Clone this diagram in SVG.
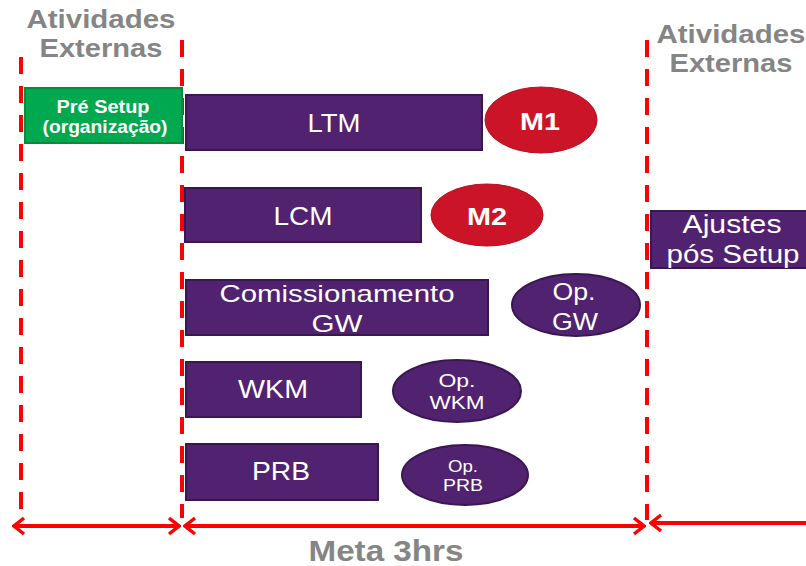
<svg xmlns="http://www.w3.org/2000/svg" width="806" height="566" viewBox="0 0 806 566">
  <defs>
    <style>
      .head { font-family: "Liberation Sans", Arial, sans-serif; font-weight: bold; font-size: 25px; fill: #858585; text-anchor: middle; }
      .task { fill: #51226F; stroke: #3A1752; stroke-width: 2; }
      .op { fill: #51226F; stroke: #3A1752; stroke-width: 2; }
      .mile { fill: #CC1428; stroke: #B8101F; stroke-width: 1; }
      .lbl { font-family: "Liberation Sans", Arial, sans-serif; font-size: 25px; fill: #FFFFFF; text-anchor: middle; }
      .bold { font-weight: bold; }
      .guide { stroke: #FF0000; stroke-width: 4; stroke-dasharray: 17 12; fill: none; }
      .span { stroke: #FF0000; stroke-width: 4; fill: none; }
    </style>
    <marker id="arrEnd" viewBox="0 0 14 20" refX="12" refY="10" markerWidth="14" markerHeight="20" markerUnits="userSpaceOnUse" orient="auto">
      <path d="M2,2 L12,10 L2,18" fill="none" stroke="#FF0000" stroke-width="3.5"/>
    </marker>
    <marker id="arrStart" viewBox="0 0 14 20" refX="2" refY="10" markerWidth="14" markerHeight="20" markerUnits="userSpaceOnUse" orient="auto">
      <path d="M12,2 L2,10 L12,18" fill="none" stroke="#FF0000" stroke-width="3.5"/>
    </marker>
  </defs>

  <rect width="806" height="566" fill="#FFFFFF"/>

  <!-- section headings -->
  <text class="head" x="101" y="28" textLength="149" lengthAdjust="spacingAndGlyphs">Atividades</text>
  <text class="head" x="101" y="57" textLength="123" lengthAdjust="spacingAndGlyphs">Externas</text>
  <text class="head" x="731" y="43" textLength="149" lengthAdjust="spacingAndGlyphs">Atividades</text>
  <text class="head" x="731" y="72" textLength="123" lengthAdjust="spacingAndGlyphs">Externas</text>
  <text class="head" x="386" y="561" style="font-size:30px" textLength="155" lengthAdjust="spacingAndGlyphs">Meta 3hrs</text>

  <!-- phase boundaries and duration spans -->
  <g id="connectors">
    <line class="guide" x1="21" y1="57" x2="21" y2="520"/>
    <line class="guide" x1="182" y1="40" x2="182" y2="518"/>
    <line class="guide" x1="647" y1="40" x2="647" y2="520"/>
    <line class="span" x1="14" y1="526" x2="179" y2="526" marker-start="url(#arrStart)" marker-end="url(#arrEnd)"/>
    <line class="span" x1="185" y1="526" x2="644" y2="526" marker-start="url(#arrStart)" marker-end="url(#arrEnd)"/>
    <line class="span" x1="651" y1="523" x2="806" y2="523" marker-start="url(#arrStart)"/>
  </g>

  <g id="pre-setup">
    <rect x="25" y="88" width="157" height="55" fill="#00A84F" stroke="#0A8A3A" stroke-width="2"/>
    <text class="lbl bold" x="103" y="113" style="font-size:18px" textLength="93" lengthAdjust="spacingAndGlyphs">Pré Setup</text>
    <text class="lbl bold" x="105" y="133" style="font-size:18px" textLength="125" lengthAdjust="spacingAndGlyphs">(organização)</text>
  </g>

  <g id="ltm">
    <rect class="task" x="186" y="95" width="296" height="55"/>
    <text class="lbl" x="334" y="132" textLength="53" lengthAdjust="spacingAndGlyphs">LTM</text>
  </g>
  <g id="m1">
    <ellipse class="mile" cx="541" cy="120" rx="56" ry="33"/>
    <text class="lbl bold" x="540" y="130" style="font-size:24px" textLength="40" lengthAdjust="spacingAndGlyphs">M1</text>
  </g>

  <g id="lcm">
    <rect class="task" x="185" y="188" width="236" height="54"/>
    <text class="lbl" x="303" y="225" textLength="59" lengthAdjust="spacingAndGlyphs">LCM</text>
  </g>
  <g id="m2">
    <ellipse class="mile" cx="487" cy="215" rx="56" ry="31"/>
    <text class="lbl bold" x="487" y="225" style="font-size:24px" textLength="40" lengthAdjust="spacingAndGlyphs">M2</text>
  </g>

  <g id="comissionamento-gw">
    <rect class="task" x="186" y="280" width="302" height="55"/>
    <text class="lbl" x="337" y="302" style="font-size:24px" textLength="235" lengthAdjust="spacingAndGlyphs">Comissionamento</text>
    <text class="lbl" x="337" y="332" style="font-size:24px" textLength="51" lengthAdjust="spacingAndGlyphs">GW</text>
  </g>
  <g id="op-gw">
    <ellipse class="op" cx="576" cy="305" rx="64" ry="31"/>
    <text class="lbl" x="574" y="300" style="font-size:24px" textLength="43" lengthAdjust="spacingAndGlyphs">Op.</text>
    <text class="lbl" x="575" y="330" style="font-size:24px" textLength="46" lengthAdjust="spacingAndGlyphs">GW</text>
  </g>

  <g id="wkm">
    <rect class="task" x="186" y="362" width="175" height="55"/>
    <text class="lbl" x="273" y="398" textLength="70" lengthAdjust="spacingAndGlyphs">WKM</text>
  </g>
  <g id="op-wkm">
    <ellipse class="op" cx="457" cy="391" rx="64" ry="31"/>
    <text class="lbl" x="457" y="387" style="font-size:19px" textLength="37" lengthAdjust="spacingAndGlyphs">Op.</text>
    <text class="lbl" x="457" y="409" style="font-size:19px" textLength="55" lengthAdjust="spacingAndGlyphs">WKM</text>
  </g>

  <g id="prb">
    <rect class="task" x="186" y="444" width="192" height="56"/>
    <text class="lbl" x="281" y="480" textLength="58" lengthAdjust="spacingAndGlyphs">PRB</text>
  </g>
  <g id="op-prb">
    <ellipse class="op" cx="465" cy="475" rx="63" ry="30"/>
    <text class="lbl" x="463" y="472" style="font-size:16px" textLength="30" lengthAdjust="spacingAndGlyphs">Op.</text>
    <text class="lbl" x="463" y="491" style="font-size:16px" textLength="40" lengthAdjust="spacingAndGlyphs">PRB</text>
  </g>

  <g id="ajustes-pos-setup">
    <rect class="task" x="651" y="211" width="160" height="57"/>
    <text class="lbl" x="732" y="233" textLength="99" lengthAdjust="spacingAndGlyphs">Ajustes</text>
    <text class="lbl" x="733" y="263" textLength="133" lengthAdjust="spacingAndGlyphs">pós Setup</text>
  </g>
</svg>
